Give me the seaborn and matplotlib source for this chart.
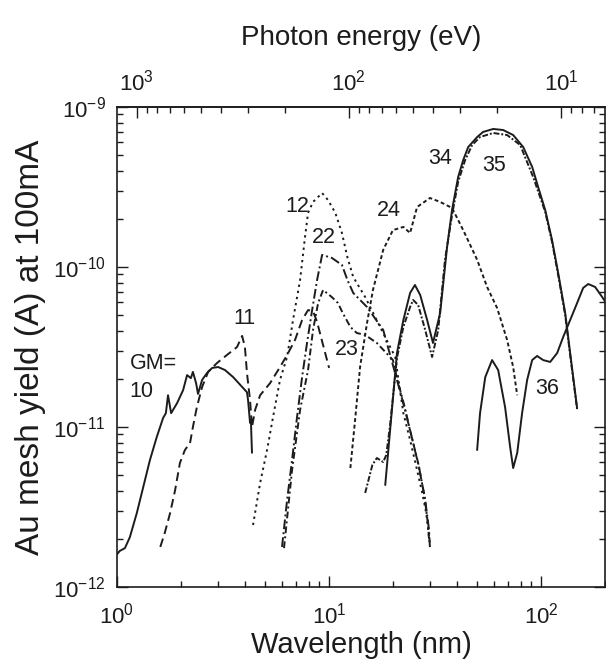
import numpy as np
import pandas as pd
import matplotlib
matplotlib.use("Agg")
import matplotlib.pyplot as plt
import matplotlib.ticker as mticker
import seaborn as sns

sns.set_theme(style="ticks")
plt.rcParams['font.family'] = ['Liberation Sans', 'DejaVu Sans']
plt.rcParams['mathtext.default'] = 'regular'

# ---- data (wavelength in nm, yield in A) ----
gm10_wl = [1.0, 1.03, 1.09, 1.15, 1.24, 1.33, 1.43, 1.54, 1.65, 1.70, 1.74, 1.80, 1.92, 2.05, 2.14,
           2.23, 2.28, 2.36, 2.41, 2.52, 2.66, 2.81, 3.0, 3.23, 3.53, 3.89, 4.10, 4.15, 4.24, 4.28, 4.30, 4.33]
gm10_y = [1.6e-12, 1.68e-12, 1.75e-12, 2.05e-12, 2.9e-12, 4.22e-12, 6.22e-12, 8.66e-12, 1.14e-11, 1.22e-11,
          1.58e-11, 1.22e-11, 1.41e-11, 1.70e-11, 2.11e-11, 2.02e-11, 2.21e-11, 1.88e-11, 1.61e-11, 1.97e-11,
          2.18e-11, 2.34e-11, 2.37e-11, 2.27e-11, 2.05e-11, 1.78e-11, 1.65e-11, 1.47e-11, 1.06e-11, 1.1e-11,
          9.0e-12, 6.9e-12]

gm11_wl = [1.60, 1.68, 1.78, 1.88, 1.98, 2.09, 2.21, 2.28, 2.38, 2.52, 2.69, 2.96, 3.30, 3.68, 3.89, 4.01,
           4.10, 4.24, 4.33, 4.48, 4.73, 5.27, 5.87, 6.34, 6.91, 7.46, 7.96, 8.40, 8.78, 9.37, 10.0]
gm11_y = [1.78e-12, 2.18e-12, 2.9e-12, 4.04e-12, 5.96e-12, 7.18e-12, 7.94e-12, 1.0e-11, 1.33e-11, 1.78e-11,
          2.21e-11, 2.51e-11, 2.82e-11, 3.16e-11, 3.71e-11, 3.16e-11, 2.18e-11, 1.47e-11, 1.0e-11, 1.28e-11,
          1.58e-11, 1.88e-11, 2.37e-11, 2.82e-11, 3.5e-11, 4.66e-11, 5.38e-11, 5.3e-11, 4.53e-11, 3.25e-11,
          2.34e-11]

gm12_wl = [4.38, 4.73, 5.10, 5.44, 5.87, 6.34, 6.76, 7.30, 7.70, 7.96, 8.40, 9.27, 9.89, 10.7, 11.5, 12.2,
           13.0, 14.8, 17.4, 20.5, 22.4, 24.1, 26.0, 27.5, 28.7, 29.9]
gm12_y = [2.44e-12, 4.47e-12, 7.18e-12, 1.15e-11, 1.97e-11, 2.74e-11, 4.66e-11, 8.3e-11, 1.54e-10, 2.18e-10,
          2.55e-10, 2.9e-10, 2.62e-10, 2.18e-10, 1.63e-10, 1.15e-10, 8.66e-11, 6.49e-11, 4.22e-11, 2.74e-11,
          1.22e-11, 8.3e-12, 5.38e-12, 3.87e-12, 2.9e-12, 1.83e-12]

gm22_wl = [6.0, 6.34, 6.69, 7.06, 7.46, 7.87, 8.32, 8.78, 9.27, 10.3, 11.5, 12.2, 13.0, 15.1, 18.0, 20.9,
           22.8, 24.6, 26.6, 28.4, 29.6, 29.9]
gm22_y = [1.78e-12, 3.5e-12, 6.22e-12, 1.15e-11, 2.05e-11, 3.35e-11, 5.38e-11, 8.3e-11, 1.19e-10, 1.14e-10,
          1.03e-10, 8.3e-11, 6.88e-11, 5.62e-11, 4.04e-11, 1.97e-11, 1.28e-11, 8.53e-12, 5.54e-12, 3.5e-12,
          2.27e-12, 1.75e-12]

gm23_wl = [6.13, 6.69, 7.30, 7.96, 8.40, 8.88, 9.37, 10.3, 11.0, 11.6, 12.6, 13.5, 14.8, 16.8, 20.0, 20.9,
           22.6, 24.4, 26.3, 28.1, 29.3, 29.6]
gm23_y = [1.75e-12, 5.38e-12, 1.28e-11, 2.27e-11, 4.04e-11, 5.96e-11, 7.18e-11, 6.49e-11, 5.96e-11, 5.16e-11,
          4.22e-11, 3.87e-11, 3.76e-11, 3.35e-11, 2.62e-11, 2.02e-11, 1.37e-11, 8.9e-12, 5.96e-12, 3.76e-12,
          2.44e-12, 1.97e-12]

gm24_wl = [12.6, 13.3, 14.0, 15.1, 16.1, 18.0, 20.0, 22.4, 24.1, 26.0, 29.9, 33.4, 38.0, 42.9, 49.9, 55.6,
           62.0, 69.1, 73.8, 77.1]
gm24_y = [5.54e-12, 1.15e-11, 2.37e-11, 4.47e-11, 7.18e-11, 1.28e-10, 1.70e-10, 1.78e-10, 1.63e-10, 2.37e-10,
          2.70e-10, 2.55e-10, 2.34e-10, 1.70e-10, 1.11e-10, 7.5e-11, 5.54e-11, 3.5e-11, 2.37e-11, 1.58e-11]

gm34_wl = [18.4, 19.4, 20.9, 22.4, 24.1, 25.4, 26.9, 29.0, 30.9, 33.4, 36.0, 38.0, 40.6, 42.9, 45.3, 49.9,
           53.2, 59.4, 66.2, 73.8, 82.3, 90.7, 96.8, 104.5, 112.6, 120.3, 129.8, 137.0, 147.8]
gm34_y = [4.34e-12, 9.57e-12, 2.9e-11, 4.66e-11, 6.88e-11, 7.72e-11, 6.68e-11, 4.66e-11, 3.35e-11, 5.16e-11,
          1.33e-10, 2.27e-10, 3.65e-10, 4.66e-10, 5.62e-10, 6.49e-10, 6.98e-10, 7.29e-10, 7.18e-10, 6.68e-10,
          5.62e-10, 4.22e-10, 3.16e-10, 2.27e-10, 1.47e-10, 9.17e-11, 5.16e-11, 2.9e-11, 1.31e-11]

gm35_wl = [14.8, 16.0, 16.8, 18.0, 18.6, 19.4, 20.9, 22.4, 24.1, 24.9, 26.3, 28.4, 30.6, 32.7, 35.2, 38.0,
           40.6, 43.8, 47.3, 51.5, 59.4, 69.1, 79.6, 91.7, 104.5, 112.6, 120.3, 129.8, 137.0, 147.8]
gm35_y = [3.87e-12, 5.79e-12, 6.4e-12, 6.04e-12, 6.68e-12, 1.03e-11, 2.7e-11, 4.22e-11, 5.62e-11, 6.22e-11,
          5.79e-11, 4.04e-11, 2.74e-11, 4.04e-11, 1.11e-10, 2.11e-10, 3.4e-10, 4.66e-10, 5.79e-10, 6.49e-10,
          6.88e-10, 6.68e-10, 5.79e-10, 3.65e-10, 2.21e-10, 1.43e-10, 8.91e-11, 5.01e-11, 2.82e-11, 1.28e-11]

gm36_wl = [49.9, 51.5, 54.5, 58.7, 62.7, 67.6, 71.4, 73.8, 77.1, 81.3, 85.9, 90.7, 95.7, 102.2, 110.3, 119.0,
           127.0, 137.0, 147.8, 157.8, 166.7, 179.7, 194.0, 200.0]
gm36_y = [7.18e-12, 1.22e-11, 2.05e-11, 2.62e-11, 2.27e-11, 1.33e-11, 7.5e-12, 5.54e-12, 6.88e-12, 1.22e-11,
          1.97e-11, 2.62e-11, 2.78e-11, 2.62e-11, 2.55e-11, 2.9e-11, 3.65e-11, 4.66e-11, 5.96e-11, 7.4e-11,
          7.83e-11, 7.5e-11, 6.49e-11, 6.1e-11]

labels = ["GM=\n10", "11", "12", "22", "23", "24", "34", "35", "36"]
label_wl = [1.15, 3.53, 6.2, 8.32, 10.7, 16.8, 29.3, 52.7, 93.7]
label_y = [2.05e-11, 4.8e-11, 2.4e-10, 1.52e-10, 3.07e-11, 2.27e-10, 4.8e-10, 4.34e-10, 1.73e-11]

top_ticks = [1000, 100, 10]
bottom_ticks = [1, 10, 100]
left_ticks = [1e-12, 1e-11, 1e-10, 1e-9]

curves = [
    (gm10_wl, gm10_y, '-'),
    (gm11_wl, gm11_y, (0, (4.5, 2.5))),
    (gm12_wl, gm12_y, (0, (1.2, 2.0))),
    (gm22_wl, gm22_y, (0, (5, 1.6, 1, 1.6))),
    (gm23_wl, gm23_y, (0, (3.5, 1.6, 1, 1.6))),
    (gm24_wl, gm24_y, (0, (2.0, 1.4))),
    (gm34_wl, gm34_y, '-'),
    (gm35_wl, gm35_y, (0, (3, 1, 1, 1))),
    (gm36_wl, gm36_y, '-'),
]

ink = '#1c1c1c'
fig = plt.figure(figsize=(6.06, 6.62), dpi=100)
ax = fig.add_axes([117/606, 1-587/662, 488/606, 480/662])

for wl, yv, ls in curves:
    df = pd.DataFrame({"wl": wl, "y": yv})
    sns.lineplot(data=df, x="wl", y="y", ax=ax, color=ink, linestyle=ls,
                 linewidth=1.4, sort=False, estimator=None)

ax.set_xscale('log')
ax.set_yscale('log')
ax.set_xlim(1, 200)
ax.set_ylim(1e-12, 1e-9)
ax.set_xticks(bottom_ticks)
ax.set_yticks(left_ticks)
ax.xaxis.set_minor_locator(mticker.LogLocator(base=10, subs=np.arange(2, 10)))
ax.yaxis.set_minor_locator(mticker.LogLocator(base=10, subs=np.arange(2, 10)))
ax.xaxis.set_minor_formatter(mticker.NullFormatter())
ax.yaxis.set_minor_formatter(mticker.NullFormatter())

for t, xw, yy in zip(labels, label_wl, label_y):
    ax.text(xw, yy, t, fontsize=15.5, color=ink, ha='left', va='center', linespacing=1.45)

ax.set_xlabel("Wavelength (nm)", fontsize=21, color=ink, labelpad=2)
ax.set_ylabel("Au mesh yield (A) at 100mA", fontsize=24, color=ink, labelpad=5)

for s in ax.spines.values():
    s.set_linewidth(1.2)
    s.set_color(ink)
    s.set_visible(True)

ax.tick_params(axis='both', which='both', direction='in', colors=ink, width=1.0)
ax.tick_params(axis='both', which='major', length=8, labelsize=16, pad=8)
ax.tick_params(axis='x', which='major', pad=11)
ax.tick_params(axis='both', which='minor', length=4.5)
ax.tick_params(axis='y', which='both', right=True)
ax.tick_params(axis='x', which='both', top=False)

def to_ev(x):
    x = np.asarray(x, dtype=float)
    return 1239.84 / np.where(x == 0, 1e-12, x)

secax = ax.secondary_xaxis('top', functions=(to_ev, to_ev))
secax.set_xticks(top_ticks)
secax.xaxis.set_minor_locator(mticker.LogLocator(base=10, subs=np.arange(2, 10)))
secax.xaxis.set_minor_formatter(mticker.NullFormatter())
secax.tick_params(axis='x', which='both', direction='in', colors=ink, width=1.0)
secax.tick_params(axis='x', which='major', length=8, labelsize=16, pad=8)
secax.tick_params(axis='x', which='minor', length=4.5)
secax.set_xlabel("Photon energy (eV)", fontsize=20, color=ink, labelpad=18)
secax.spines['top'].set_linewidth(1.2)

ax.grid(False)
fig.savefig("out.png", dpi=100)
